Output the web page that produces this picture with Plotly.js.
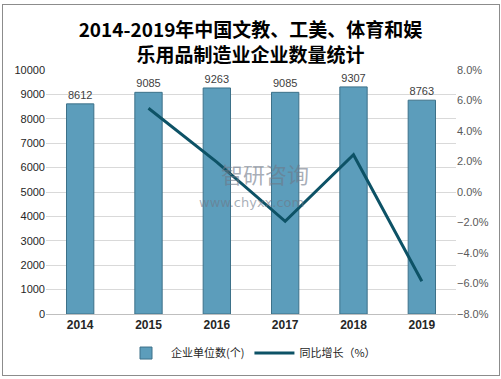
<!DOCTYPE html>
<html>
<head>
<meta charset="utf-8">
<script src="https://cdn.plot.ly/plotly-3.0.1.min.js"></script>
<style>
html,body{margin:0;padding:0;background:#fff;}
#wrap{position:relative;width:501px;height:379px;}
#chart{width:501px;height:379px;}
#frame{position:absolute;left:2px;top:4px;width:496px;height:370px;border:1px solid #8c8c8c;pointer-events:none;}
</style>
</head>
<body>
<div id="wrap"><div id="chart"></div><div id="frame"></div></div>
<script>
const years = ['2014','2015','2016','2017','2018','2019'];
const companies = [8612, 9085, 9263, 9085, 9307, 8763];
const growth = [null, 5.49, 1.96, -1.92, 2.44, -5.85];
const barName = '企业单位数(个)';
const lineName = '同比增长（%）';
const titleText = '2014-2019年中国文教、工美、体育和娱<br>乐用品制造业企业数量统计';

const traces = [
  {
    type: 'bar', x: years, y: companies, name: barName,
    width: 0.4,
    marker: {color: '#5c9dbb', line: {color: '#3d7189', width: 1}},
    text: companies.map(String), textposition: 'outside', cliponaxis: false,
    textfont: {family: 'Liberation Sans, Arial, sans-serif', size: 11, color: '#404040'},
    hoverinfo: 'x+y'
  },
  {
    type: 'scatter', mode: 'lines', x: years, y: growth, name: lineName,
    yaxis: 'y2', line: {color: '#0d5266', width: 3}, connectgaps: false
  }
];

const layout = {
  width: 501, height: 379,
  margin: {l: 46, r: 45, t: 70, b: 63},
  paper_bgcolor: '#ffffff', plot_bgcolor: '#ffffff',
  showlegend: true,
  title: {
    text: titleText, x: 0.5, xanchor: 'center', y: 0.902, yanchor: 'middle', yref: 'container',
    font: {family: 'Noto Sans CJK SC, sans-serif', size: 19, color: '#000000', weight: 'bold'}
  },
  xaxis: {
    type: 'category', showgrid: false, zeroline: false,
    showline: true, linecolor: '#bfbfbf', linewidth: 1, ticks: '',
    tickfont: {family: 'Liberation Sans, Arial, sans-serif', size: 12, color: '#262626', weight: 'bold'},
    ticklen: 0
  },
  yaxis: {
    range: [0, 10000], dtick: 1000, tickformat: 'd', showgrid: true, gridcolor: '#d9d9d9', gridwidth: 1,
    zeroline: false, ticks: '', showline: false,
    tickfont: {family: 'Liberation Sans, Arial, sans-serif', size: 11, color: '#262626'}
  },
  yaxis2: {
    overlaying: 'y', side: 'right', range: [-8, 8], dtick: 2,
    tickformat: '.1f', ticksuffix: '%', showgrid: false, zeroline: false, ticks: '',
    tickfont: {family: 'Liberation Sans, Arial, sans-serif', size: 11, color: '#595959'}
  },
  legend: {
    orientation: 'h', x: 0.5, xanchor: 'center', y: -0.16, yanchor: 'middle',
    font: {family: 'Noto Sans CJK SC, sans-serif', size: 11, color: '#262626'},
    itemwidth: 40, bgcolor: 'rgba(0,0,0,0)'
  },
  annotations: [
    {text: '智研咨询', xref: 'paper', yref: 'paper', x: 0.535, y: 0.505, xanchor: 'center', yanchor: 'bottom',
     showarrow: false, font: {family: 'Noto Sans CJK SC, sans-serif', size: 22, color: 'rgba(110,120,135,0.6)'}},
    {text: 'www.chyxx.com', xref: 'paper', yref: 'paper', x: 0.5, y: 0.495, xanchor: 'center', yanchor: 'top',
     showarrow: false, font: {family: 'DejaVu Sans, sans-serif', size: 13, color: 'rgba(110,120,135,0.6)'}}
  ]
};

Plotly.newPlot('chart', traces, layout, {displayModeBar: false, staticPlot: true});
</script>
</body>
</html>
